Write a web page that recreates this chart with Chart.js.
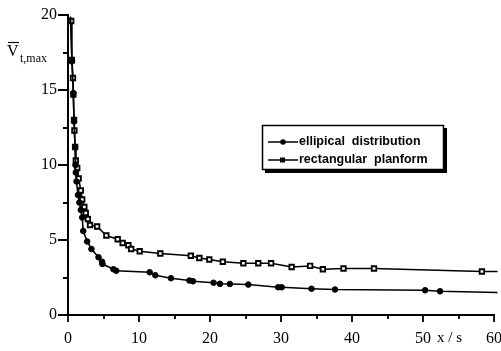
<!DOCTYPE html>
<html>
<head>
<meta charset="utf-8">
<script src="https://cdn.jsdelivr.net/npm/chart.js@4.4.0/dist/chart.umd.min.js"></script>
<style>
  html, body { margin: 0; padding: 0; background: #fff; }
  #wrap { width: 501px; height: 351px; }
</style>
</head>
<body>
<div id="wrap"><canvas id="vtChart" width="501" height="351"></canvas></div>
<script>
// x positions (x/s) and peak velocity for both loadings
const ellipX = [0.35, 0.55, 0.75, 0.85, 1.0, 1.05, 1.1, 1.2, 1.4, 1.6, 1.8, 2.0, 2.15, 2.7, 3.3, 4.3, 4.8, 4.85, 6.4, 6.8, 11.5, 12.3, 14.5, 17.1, 17.6, 20.5, 21.4, 22.8, 25.4, 29.6, 30.1, 34.3, 37.6, 50.3, 52.4, 60.5];
const ellipV = [19.9, 16.9, 14.8, 12.9, 11.2, 10.0, 9.5, 8.9, 8.0, 7.5, 7.0, 6.5, 5.6, 4.9, 4.4, 3.85, 3.55, 3.4, 3.05, 2.95, 2.85, 2.65, 2.45, 2.3, 2.25, 2.15, 2.08, 2.07, 2.03, 1.85, 1.85, 1.75, 1.7, 1.65, 1.58, 1.5];
const rectX = [0.45, 0.55, 0.7, 0.75, 0.85, 0.9, 1.0, 1.1, 1.3, 1.5, 1.8, 2.0, 2.3, 2.5, 2.8, 3.1, 4.1, 5.4, 7.0, 7.7, 8.5, 8.9, 10.1, 13.0, 17.3, 18.5, 19.9, 21.8, 24.7, 26.8, 28.6, 31.5, 34.1, 35.9, 38.8, 43.1, 58.3, 60.5];
const rectV = [19.6, 17.0, 15.8, 14.7, 13.0, 12.3, 11.2, 10.3, 9.8, 9.1, 8.3, 7.7, 7.2, 6.8, 6.4, 6.0, 5.9, 5.3, 5.05, 4.8, 4.65, 4.4, 4.25, 4.1, 3.95, 3.8, 3.7, 3.55, 3.45, 3.45, 3.45, 3.2, 3.27, 3.05, 3.1, 3.1, 2.9, 2.9];
const seriesNames = ['ellipical  distribution', 'rectangular  planform'];
const xTicks = [0, 10, 20, 30, 40, 50, 60];
const yTicks = [0, 5, 10, 15, 20];

function toPoints(xs, ys) {
  return xs.map((x, i) => ({ x: x, y: ys[i] }));
}
// no marker on the first/last (line-only) points
function radii(n, r, skipFirst) {
  return Array.from({ length: n }, (_, i) => (i === n - 1 || (skipFirst && i === 0)) ? 0 : r);
}

const serif = '"Liberation Serif", "DejaVu Serif", serif';

// tick marks, axis captions and the framed legend
const decorations = {
  id: 'decorations',
  afterDraw(chart) {
    const ctx = chart.ctx;
    const xs = chart.scales.x, ys = chart.scales.y;
    const x0 = Math.round(xs.left), y0 = Math.round(ys.bottom);
    ctx.save();
    ctx.strokeStyle = '#000';
    ctx.lineWidth = 1.8;
    ctx.beginPath();
    for (let v = 0; v <= 60; v += 5) {
      const px = Math.round(xs.getPixelForValue(v));
      ctx.moveTo(px, y0);
      ctx.lineTo(px, y0 + (v % 10 === 0 ? 7 : 4));
    }
    for (let v = 0; v <= 20; v += 2.5) {
      const py = Math.round(ys.getPixelForValue(v));
      ctx.moveTo(x0, py);
      ctx.lineTo(x0 - (v % 5 === 0 ? 10 : 5), py);
    }
    ctx.stroke();

    // y caption: V-bar with subscript
    ctx.fillStyle = '#000';
    ctx.font = '16px ' + serif;
    ctx.textBaseline = 'alphabetic';
    ctx.textAlign = 'left';
    ctx.fillText('V', 7, 56);
    ctx.lineWidth = 1.2;
    ctx.beginPath();
    ctx.moveTo(8, 42.5);
    ctx.lineTo(19, 42.5);
    ctx.stroke();
    ctx.font = '12px ' + serif;
    ctx.fillText('t,max', 20, 62);

    // x caption
    ctx.font = '15px ' + serif;
    ctx.fillText('x / s', 437, 342);

    // legend box with drop shadow
    const bx = 262, by = 125, bw = 182, bh = 45;
    ctx.fillStyle = '#000';
    ctx.fillRect(bx + 3, by + 3, bw, bh);
    ctx.fillStyle = '#fff';
    ctx.fillRect(bx, by, bw, bh);
    ctx.lineWidth = 1.5;
    ctx.strokeRect(bx + 0.5, by + 0.5, bw - 1, bh - 1);

    const rows = [142, 160];
    ctx.font = 'bold 12.5px "Liberation Sans", Arial, sans-serif';
    ctx.textBaseline = 'middle';
    chart.data.datasets.forEach((ds, i) => {
      const y = rows[i];
      ctx.strokeStyle = '#000';
      ctx.lineWidth = 1.5;
      ctx.beginPath();
      ctx.moveTo(268, y);
      ctx.lineTo(298, y);
      ctx.stroke();
      ctx.fillStyle = '#000';
      if (i === 0) {
        ctx.beginPath();
        ctx.arc(283, y, 2.8, 0, Math.PI * 2);
        ctx.fill();
      } else {
        ctx.fillRect(280, y - 2.5, 5, 5);
      }
      ctx.fillText(ds.label, 299, y);
    });
    ctx.restore();
  }
};

new Chart('vtChart', {
  type: 'scatter',
  data: {
    datasets: [{
      label: seriesNames[0],
      data: toPoints(ellipX, ellipV),
      showLine: true,
      borderColor: '#000',
      borderWidth: 1.6,
      backgroundColor: '#000',
      pointStyle: 'circle',
      pointRadius: radii(ellipX.length, 2.8, true),
      pointBorderWidth: 1,
      tension: 0
    }, {
      label: seriesNames[1],
      data: toPoints(rectX, rectV),
      showLine: true,
      borderColor: '#000',
      borderWidth: 1.6,
      backgroundColor: '#fff',
      pointStyle: 'rect',
      pointRadius: radii(rectX.length, 3.2, false),
      pointBorderWidth: 1.8,
      tension: 0
    }]
  },
  options: {
    responsive: false,
    animation: false,
    clip: false,
    layout: { padding: { top: 15, right: 0, left: 0, bottom: 0 } },
    plugins: {
      legend: { display: false },
      tooltip: { enabled: false }
    },
    scales: {
      x: {
        type: 'linear',
        min: 0,
        max: 60,
        afterBuildTicks: (scale) => { scale.ticks = xTicks.map(v => ({ value: v })); },
        afterFit: (scale) => { scale.height = 36; scale.paddingRight = 7; },
        border: { display: true, color: '#000', width: 2 },
        grid: { display: true, drawOnChartArea: false, drawTicks: true, tickLength: 7, color: 'rgba(0,0,0,0)' },
        ticks: { color: '#000', padding: 7, maxRotation: 0, font: { family: serif, size: 16 } }
      },
      y: {
        type: 'linear',
        min: 0,
        max: 20,
        afterBuildTicks: (scale) => { scale.ticks = yTicks.map(v => ({ value: v })); },
        afterFit: (scale) => { scale.width = 68; },
        border: { display: true, color: '#000', width: 2 },
        grid: { display: true, drawOnChartArea: false, drawTicks: true, tickLength: 9, color: 'rgba(0,0,0,0)' },
        ticks: { color: '#000', padding: 2, font: { family: serif, size: 16 } }
      }
    }
  },
  plugins: [decorations]
});
</script>
</body>
</html>
